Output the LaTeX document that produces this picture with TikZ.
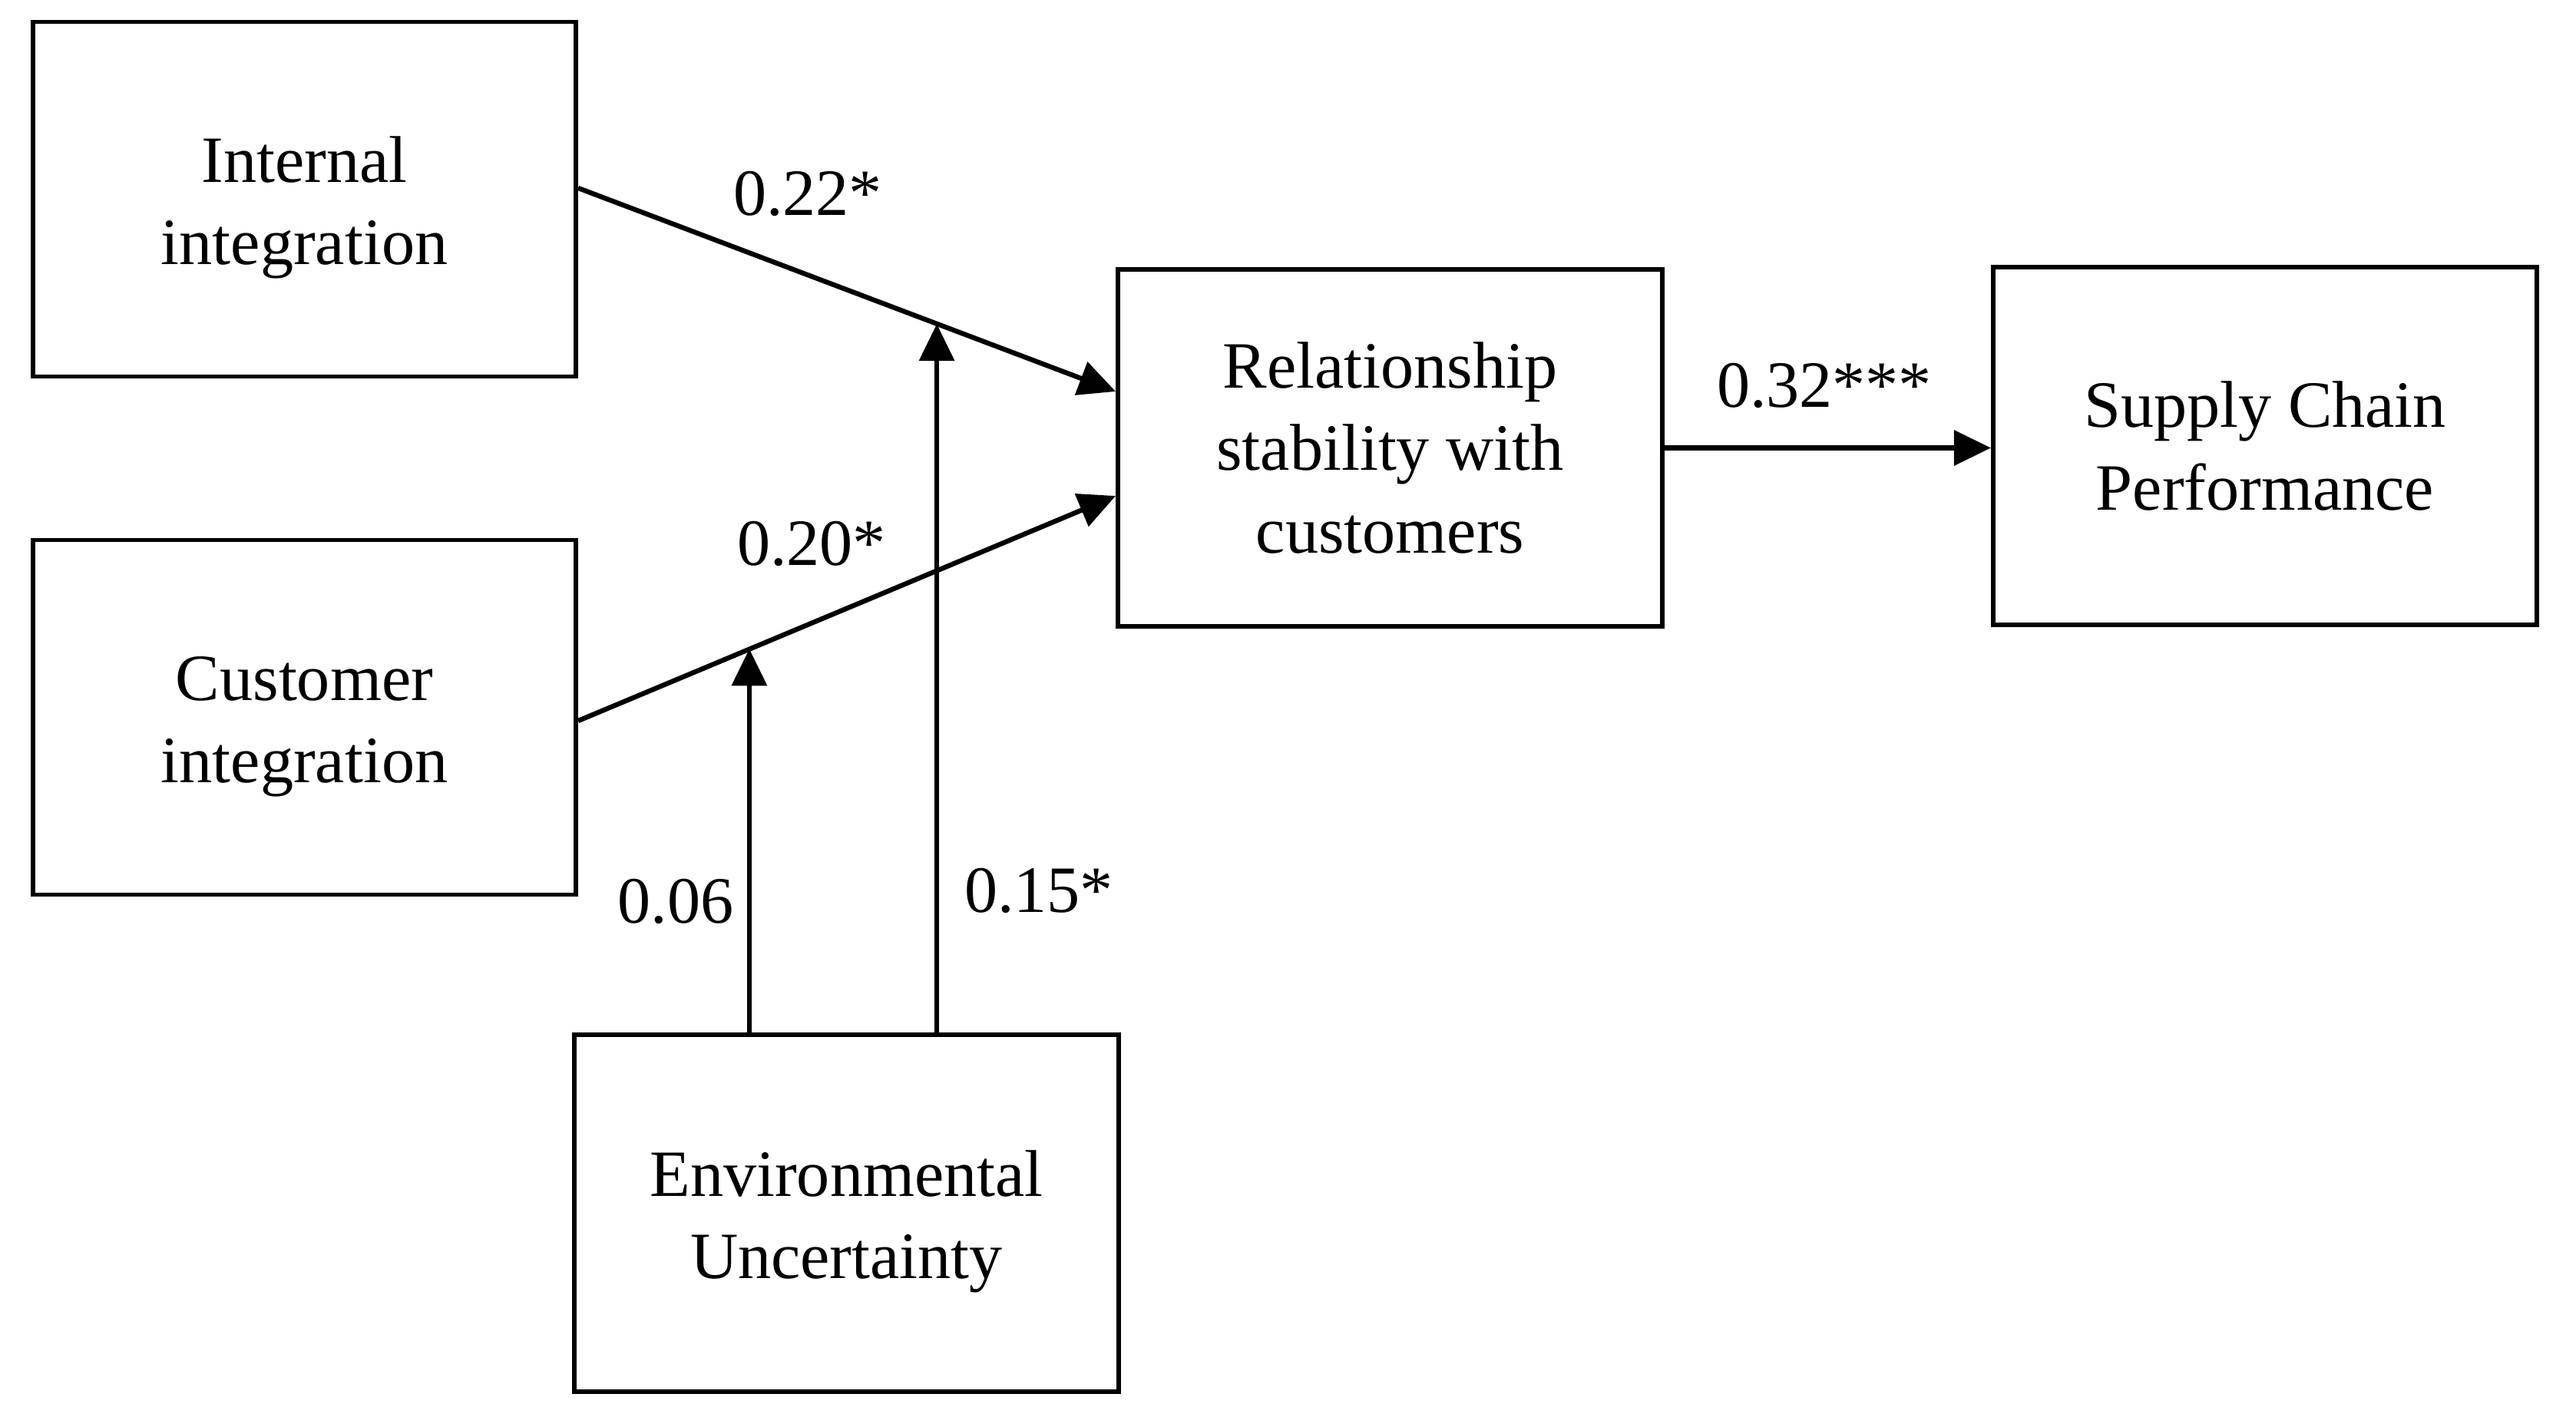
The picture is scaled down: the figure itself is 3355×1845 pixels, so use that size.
\documentclass[tikz,border=0pt]{standalone}
\usepackage{fontspec}
\setmainfont{Liberation Serif}
\usetikzlibrary{arrows.meta}
\newcommand{\lowerstrut}{\rule{0pt}{0.82cm}}
\begin{document}
\begin{tikzpicture}[x=0.01cm,y=-0.01cm,
  box/.style={draw, line width=1.6pt, minimum width=7.07cm, minimum height=4.62cm, inner sep=0pt, align=center, font=\fontsize{24.5}{30.5}\selectfont},
  conn/.style={line width=1.8pt, -{Triangle[length=0.48cm,width=0.45cm]}},
  lbl/.style={anchor=base, inner sep=0pt, font=\fontsize{24.5}{30.5}\selectfont}]
\useasboundingbox (0,0) rectangle (3355,1845);
\node[box] (int) at (396.5,259.5) {\lowerstrut Internal\\integration};
\node[box] (cus) at (396.5,934.5) {\lowerstrut Customer\\integration};
\node[box, minimum height=4.65cm, minimum width=7.09cm] (rel) at (1810.5,583.5) {Relationship\\stability with\\customers};
\node[box, minimum height=4.66cm, minimum width=7.08cm] (scp) at (2950,581) {Supply Chain\\Performance};
\node[box, minimum height=4.65cm, minimum width=7.09cm] (env) at (1102.5,1580.5) {\lowerstrut Environmental\\Uncertainty};
\draw[conn] ([yshift=0.145cm]int.east) -- coordinate[pos=0.668] (m1) ([yshift=0.735cm]rel.west);
\draw[conn] ([yshift=-0.045cm]cus.east) -- coordinate[pos=0.320] (m2) ([yshift=-0.625cm]rel.west);
\coordinate (v1) at ([xshift=-1.265cm]env.north);
\coordinate (v2) at ([xshift=1.175cm]env.north);
\draw[conn] (v1) -- (v1 |- m2);
\draw[conn] (v2) -- (v2 |- m1);
\draw[conn] (rel.east) -- (rel.east -| scp.west);
\node[lbl] (l22) at (1052,280) {0.22*};
\node[lbl] (l20) at (1057,736) {0.20*};
\node[lbl] (l06) at (880,1202) {0.06};
\node[lbl] (l15) at (1353,1188) {0.15*};
\node[lbl] (l32) at (2376,530) {0.32***};
\end{tikzpicture}
\end{document}
